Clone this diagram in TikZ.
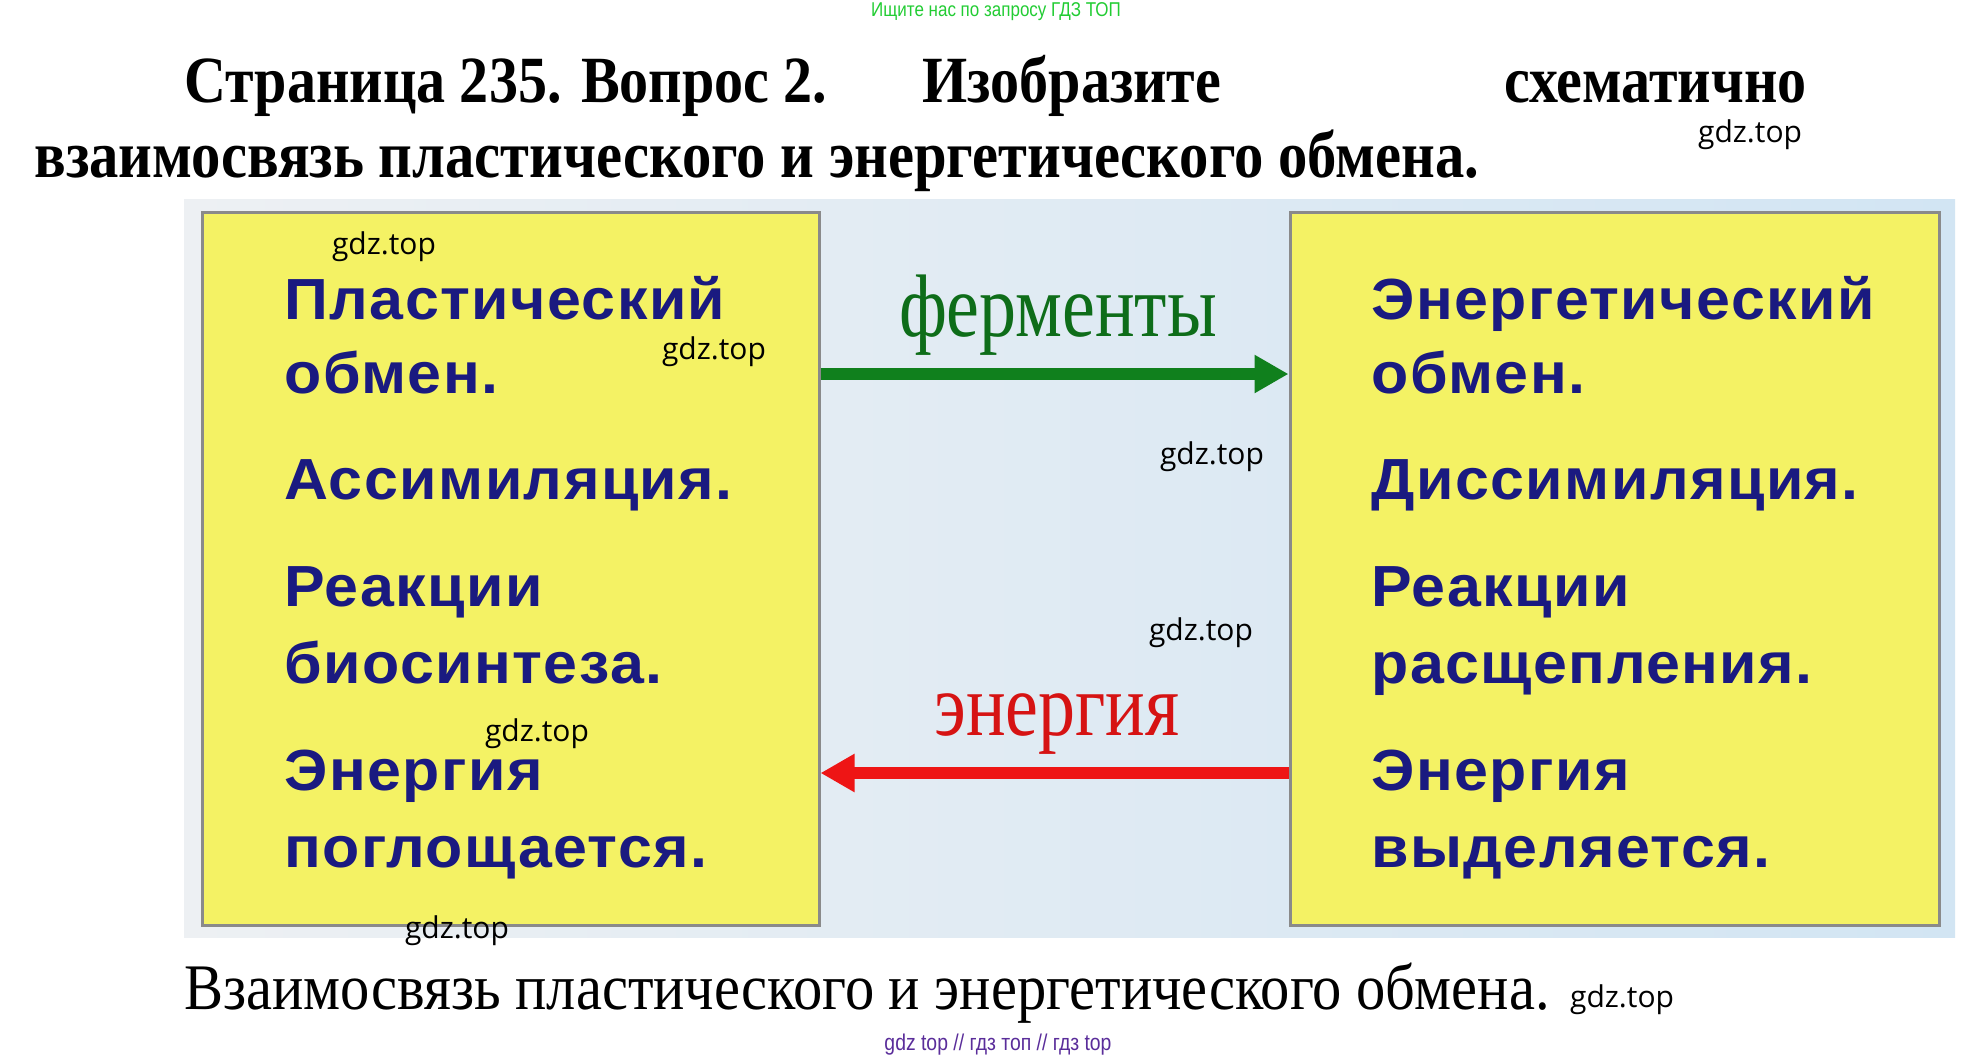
\documentclass[tikz,border=0pt]{standalone}
\usepackage{fontspec}
\setmainfont{Liberation Serif}
\newfontfamily\boxfont{Liberation Sans}[LetterSpace=2.5, FakeStretch=1.05]
\newfontfamily\titlefont{Liberation Serif}[FakeStretch=0.88]
\newfontfamily\capfont{Liberation Serif}[FakeStretch=0.9]
\newfontfamily\wmfont{Open Sans}
\newfontfamily\smallfont{Liberation Sans}[FakeStretch=0.85]
\usetikzlibrary{arrows.meta}
\definecolor{panelbg1}{HTML}{EDF0F3}
\definecolor{panelbg2}{HTML}{D2E5F3}
\definecolor{boxyellow}{HTML}{F4F264}
\definecolor{boxgray}{HTML}{8A8A8A}
\definecolor{navy}{HTML}{1A1A80}
\definecolor{fgreen}{HTML}{10801D}
\definecolor{fred}{HTML}{EE1515}
\definecolor{wmgreen}{HTML}{22CC33}
\definecolor{wmpurple}{HTML}{5A2D9A}
\begin{document}
\begin{tikzpicture}[
    x=0.5pt, y=-0.5pt,
    panel/.style={rectangle, draw=boxgray, line width=1.5pt, fill=boxyellow, inner sep=0pt, minimum height=356.5pt},
    boxtext/.style={anchor=base west, inner sep=0pt, text=navy, font=\boxfont\bfseries\fontsize{29}{30}\selectfont},
    watermark/.style={inner sep=0pt, font=\wmfont\fontsize{15}{16}\selectfont},
    arrow/.style={line width=6pt, -{Triangle[length=17pt, width=18pt]}}
]
\useasboundingbox (0,0) rectangle (1984,1055);

% header
\node[inner sep=0pt, anchor=base, text=wmgreen, font=\smallfont\fontsize{10}{11}\selectfont] (seek) at (996,16) {Ищите нас по запросу ГДЗ ТОП};
\node[inner sep=0pt, anchor=base west, font=\titlefont\bfseries\fontsize{33}{34}\selectfont] (q1) at (184,102) {Страница 235. Вопрос 2.};
\node[inner sep=0pt, anchor=base west, font=\titlefont\bfseries\fontsize{33}{34}\selectfont] (q2) at (922,102) {Изобразите};
\node[inner sep=0pt, anchor=base east, font=\titlefont\bfseries\fontsize{33}{34}\selectfont] (q3) at (1807,102) {схематично};
\node[inner sep=0pt, anchor=base west, font=\titlefont\bfseries\fontsize{33.3}{34}\selectfont] (q4) at (34,177) {взаимосвязь пластического и энергетического обмена.};

% picture
\fill[left color=panelbg1, right color=panelbg2] (184,199) rectangle (1955,937);
\node[panel, minimum width=308.5pt] (plast) at (510.5,568.5) {};
\node[panel, minimum width=324.5pt] (energ) at (1614.5,568.5) {};

\node[boxtext] (p1) at (284,319) {Пластический};
\node[boxtext] (p2) at (284,393) {обмен.};
\node[boxtext] (p3) at (284,499) {Ассимиляция.};
\node[boxtext] (p4) at (284,606) {Реакции};
\node[boxtext] (p5) at (284,683) {биосинтеза.};
\node[boxtext] (p6) at (284,790) {Энергия};
\node[boxtext] (p7) at (284,867) {поглощается.};

\node[boxtext] (e1) at (1371,319) {Энергетический};
\node[boxtext] (e2) at (1371,393) {обмен.};
\node[boxtext] (e3) at (1371,499) {Диссимиляция.};
\node[boxtext] (e4) at (1371,606) {Реакции};
\node[boxtext] (e5) at (1371,683) {расщепления.};
\node[boxtext] (e6) at (1371,790) {Энергия};
\node[boxtext] (e7) at (1371,867) {выделяется.};

\draw[arrow, fgreen] ([yshift=97.25pt]plast.east) -- ([yshift=97.25pt]energ.west);
\draw[arrow, fred] ([yshift=-102.25pt]energ.west) -- ([yshift=-102.25pt]plast.east);

\node[inner sep=0pt, anchor=base, text=fgreen!85!black, font=\fontsize{37}{38}\selectfont] (enz) at (1058,336) {\scalebox{1}[1.2]{ферменты}};
\node[inner sep=0pt, anchor=base, text=fred!90!black, font=\fontsize{37}{38}\selectfont] (enr) at (1057,735) {\scalebox{1}[1.2]{энергия}};

% caption
\node[inner sep=0pt, anchor=base west, font=\capfont\fontsize{32.5}{33}\selectfont] (cap) at (184,1009) {Взаимосвязь пластического и энергетического обмена.};
\node[inner sep=0pt, anchor=base, text=wmpurple, font=\smallfont\fontsize{11.4}{12}\selectfont] (foot) at (998,1050) {gdz top // гдз топ // гдз top};

% watermarks
\node[watermark] (w1) at (1750,135) {gdz.top};
\node[watermark] (w2) at (384,247) {gdz.top};
\node[watermark] (w3) at (714,352) {gdz.top};
\node[watermark] (w4) at (1212,457) {gdz.top};
\node[watermark] (w5) at (1201,633) {gdz.top};
\node[watermark] (w6) at (537,734) {gdz.top};
\node[watermark] (w7) at (457,931) {gdz.top};
\node[watermark] (w8) at (1622,1000) {gdz.top};

\end{tikzpicture}
\end{document}
